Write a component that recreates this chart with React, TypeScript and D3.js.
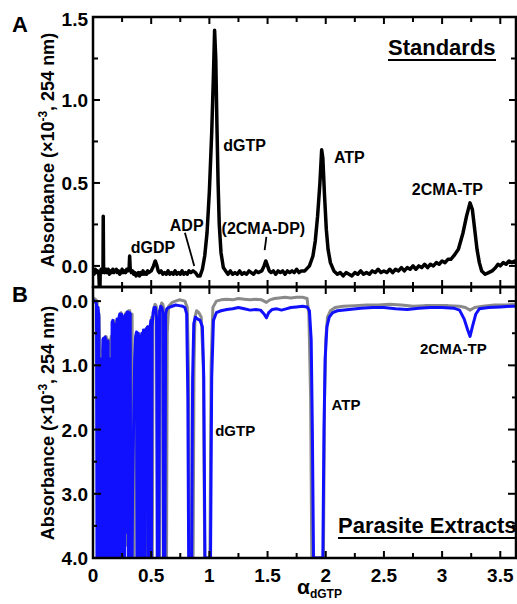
import React from "react";
import * as d3 from "d3";

// panel A: standards trace [alpha, absorbance]
const standardsTrace: [number, number][] = [
  [0.000,-0.03],[0.010,-0.05],[0.020,-0.02],[0.030,-0.04],[0.040,-0.03],[0.050,-0.05],[0.055,-0.13],[0.060,-0.13],
  [0.062,-0.04],[0.070,-0.02],[0.080,-0.04],[0.086,-0.03],[0.088,0.30],[0.091,-0.03],[0.100,-0.04],[0.110,-0.02],
  [0.120,-0.04],[0.130,-0.02],[0.140,-0.05],[0.150,-0.03],[0.160,-0.04],[0.170,-0.02],[0.180,-0.04],[0.190,-0.03],
  [0.200,-0.02],[0.210,-0.04],[0.220,-0.03],[0.230,-0.05],[0.240,-0.04],[0.250,-0.02],[0.260,-0.04],[0.270,-0.03],
  [0.280,-0.04],[0.290,-0.02],[0.300,-0.03],[0.310,-0.02],[0.315,0.06],[0.320,-0.02],[0.330,-0.04],[0.340,-0.03],
  [0.350,-0.05],[0.360,-0.04],[0.370,-0.06],[0.380,-0.05],[0.390,-0.04],[0.400,-0.06],[0.410,-0.04],[0.420,-0.05],
  [0.430,-0.03],[0.440,-0.05],[0.450,-0.04],[0.460,-0.05],[0.470,-0.03],[0.480,-0.04],[0.500,-0.03],[0.520,0.00],
  [0.535,0.03],[0.550,0.00],[0.560,-0.03],[0.570,-0.04],[0.585,-0.03],[0.600,-0.05],[0.615,-0.04],[0.630,-0.05],
  [0.645,-0.03],[0.660,-0.05],[0.675,-0.04],[0.690,-0.05],[0.705,-0.03],[0.720,-0.05],[0.735,-0.04],[0.750,-0.05],
  [0.765,-0.03],[0.780,-0.05],[0.795,-0.04],[0.810,-0.05],[0.825,-0.03],[0.840,-0.04],[0.860,-0.03],[0.880,-0.04],
  [0.900,-0.06],[0.920,-0.06],[0.940,-0.02],[0.960,0.06],[0.980,0.20],[1.000,0.45],[1.020,0.80],[1.035,1.15],
  [1.045,1.42],[1.055,1.25],[1.065,0.85],[1.075,0.50],[1.085,0.25],[1.100,0.08],[1.120,-0.01],[1.140,-0.03],
  [1.160,-0.05],[1.180,-0.03],[1.200,-0.05],[1.220,-0.04],[1.240,-0.05],[1.260,-0.03],[1.280,-0.05],[1.300,-0.04],
  [1.320,-0.05],[1.340,-0.03],[1.360,-0.04],[1.380,-0.05],[1.400,-0.03],[1.420,-0.04],[1.450,-0.03],[1.470,0.00],
  [1.485,0.03],[1.500,0.00],[1.515,-0.03],[1.530,-0.04],[1.550,-0.03],[1.570,-0.05],[1.590,-0.03],[1.610,-0.04],
  [1.630,-0.03],[1.650,-0.05],[1.670,-0.03],[1.690,-0.04],[1.710,-0.03],[1.730,-0.04],[1.750,-0.02],[1.770,-0.04],
  [1.790,-0.03],[1.820,-0.03],[1.860,0.00],[1.890,0.06],[1.910,0.15],[1.930,0.30],[1.950,0.50],[1.965,0.70],
  [1.975,0.65],[1.990,0.42],[2.005,0.22],[2.020,0.10],[2.040,0.02],[2.070,-0.03],[2.100,-0.05],[2.125,-0.04],
  [2.150,-0.06],[2.175,-0.04],[2.200,-0.05],[2.225,-0.06],[2.250,-0.04],[2.275,-0.05],[2.300,-0.03],[2.325,-0.05],
  [2.350,-0.04],[2.375,-0.05],[2.400,-0.03],[2.425,-0.04],[2.450,-0.02],[2.475,-0.04],[2.500,-0.03],[2.525,-0.04],
  [2.550,-0.02],[2.575,-0.04],[2.600,-0.02],[2.625,-0.03],[2.650,-0.01],[2.675,-0.03],[2.700,-0.01],[2.725,-0.02],
  [2.750,0.00],[2.775,-0.02],[2.800,0.00],[2.825,-0.01],[2.850,0.01],[2.875,-0.01],[2.900,0.01],[2.925,0.00],
  [2.950,0.02],[2.975,0.01],[3.000,0.03],[3.025,0.02],[3.050,0.04],[3.075,0.04],[3.100,0.06],[3.140,0.10],
  [3.180,0.20],[3.210,0.30],[3.240,0.38],[3.260,0.34],[3.280,0.22],[3.300,0.10],[3.320,0.02],[3.340,-0.03],
  [3.370,-0.05],[3.400,-0.04],[3.430,-0.03],[3.460,-0.01],[3.480,0.01],[3.500,0.00],[3.525,0.02],[3.550,0.01],
  [3.575,0.03],[3.600,0.02],[3.625,0.03],[3.650,0.01],
];

// panel B: parasite extract traces (blue = treated, grey = control)
const extractBlue: [number, number][] = [
  [0.000,-0.02],[0.015,0.00],[0.025,0.02],[0.030,0.05],[0.034,4.0],[0.040,4.0],[0.044,0.10],[0.050,0.25],
  [0.054,4.0],[0.060,4.0],[0.064,0.90],[0.070,1.00],[0.074,4.0],[0.080,4.0],[0.085,0.60],[0.090,0.58],
  [0.094,4.0],[0.100,1.60],[0.104,0.56],[0.110,0.60],[0.114,4.0],[0.120,4.0],[0.124,1.20],[0.130,0.62],
  [0.134,4.0],[0.142,4.0],[0.146,0.90],[0.152,4.0],[0.160,4.0],[0.164,0.33],[0.170,0.30],[0.174,3.60],
  [0.180,0.35],[0.186,4.0],[0.192,4.0],[0.196,0.40],[0.202,1.30],[0.206,0.28],[0.212,4.0],[0.220,3.50],
  [0.224,0.25],[0.230,0.20],[0.234,4.0],[0.240,4.0],[0.244,0.20],[0.252,0.25],[0.256,2.00],[0.262,0.30],
  [0.266,4.0],[0.272,4.0],[0.276,0.22],[0.282,3.45],[0.286,0.20],[0.290,3.60],[0.294,0.17],[0.300,0.17],
  [0.304,4.0],[0.310,4.0],[0.314,0.18],[0.320,0.20],[0.324,4.0],[0.336,4.0],[0.340,3.00],[0.350,1.80],
  [0.358,0.90],[0.366,0.55],[0.374,0.48],[0.378,4.0],[0.386,4.0],[0.390,0.50],[0.396,4.0],[0.402,4.0],
  [0.406,1.50],[0.414,0.55],[0.420,0.50],[0.424,4.0],[0.430,4.0],[0.434,0.45],[0.442,0.48],[0.446,4.0],
  [0.452,0.45],[0.462,0.42],[0.470,0.40],[0.474,4.0],[0.486,4.0],[0.490,0.40],[0.498,0.30],[0.502,4.0],
  [0.508,0.40],[0.516,0.18],[0.526,0.10],[0.536,0.10],[0.546,0.25],[0.552,4.0],[0.566,4.0],[0.572,0.15],
  [0.582,0.08],[0.592,0.10],[0.600,0.18],[0.606,4.0],[0.618,4.0],[0.624,0.20],[0.634,0.12],[0.650,0.10],
  [0.680,0.08],[0.710,0.06],[0.740,0.07],[0.770,0.08],[0.790,0.10],[0.805,0.20],[0.815,1.50],[0.822,4.0],
  [0.848,4.0],[0.856,1.20],[0.866,0.35],[0.880,0.25],[0.900,0.28],[0.920,0.30],[0.940,0.40],[0.952,1.20],
  [0.962,4.0],[1.010,4.0],[1.020,1.20],[1.035,0.30],[1.060,0.18],[1.100,0.15],[1.150,0.13],[1.200,0.12],
  [1.250,0.10],[1.300,0.12],[1.350,0.14],[1.400,0.13],[1.440,0.14],[1.470,0.20],[1.490,0.26],[1.510,0.18],
  [1.540,0.13],[1.580,0.12],[1.620,0.14],[1.660,0.12],[1.700,0.10],[1.750,0.09],[1.800,0.08],[1.840,0.09],
  [1.860,0.15],[1.875,0.60],[1.885,2.00],[1.895,4.0],[1.975,4.0],[1.985,2.00],[1.995,0.90],[2.010,0.40],
  [2.030,0.25],[2.060,0.18],[2.100,0.15],[2.200,0.13],[2.300,0.11],[2.400,0.10],[2.500,0.10],[2.600,0.12],
  [2.700,0.13],[2.800,0.11],[2.900,0.10],[3.000,0.10],[3.100,0.11],[3.150,0.14],[3.190,0.28],[3.220,0.45],
  [3.240,0.55],[3.260,0.40],[3.290,0.20],[3.320,0.12],[3.400,0.10],[3.500,0.09],[3.600,0.08],[3.650,0.08],
];

const extractGrey: [number, number][] = [
  [0.000,-0.05],[0.020,-0.03],[0.036,0.00],[0.040,4.0],[0.048,4.0],[0.052,0.20],[0.060,0.90],[0.068,4.0],
  [0.076,4.0],[0.082,0.80],[0.092,0.60],[0.098,4.0],[0.106,1.40],[0.112,0.55],[0.122,0.60],[0.128,4.0],
  [0.136,2.75],[0.142,0.60],[0.150,2.75],[0.156,0.55],[0.162,4.0],[0.170,4.0],[0.176,0.30],[0.188,0.32],
  [0.194,4.0],[0.200,4.0],[0.206,0.35],[0.216,0.30],[0.222,3.50],[0.230,0.22],[0.240,0.18],[0.246,4.0],
  [0.256,4.0],[0.262,0.25],[0.270,2.20],[0.276,0.20],[0.286,0.18],[0.292,3.80],[0.300,3.80],[0.306,0.15],
  [0.316,0.15],[0.322,4.0],[0.330,4.0],[0.336,0.20],[0.344,4.0],[0.352,4.0],[0.360,1.50],[0.370,0.70],
  [0.380,0.50],[0.386,4.0],[0.396,4.0],[0.402,0.55],[0.408,4.0],[0.430,4.0],[0.436,0.50],[0.446,0.45],
  [0.452,4.0],[0.460,0.45],[0.470,0.40],[0.478,4.0],[0.490,4.0],[0.496,0.35],[0.504,0.25],[0.510,4.0],
  [0.516,0.30],[0.524,0.10],[0.534,0.05],[0.544,0.08],[0.550,0.20],[0.556,4.0],[0.574,4.0],[0.580,0.10],
  [0.590,0.03],[0.600,0.05],[0.610,0.15],[0.616,4.0],[0.632,4.0],[0.638,0.50],[0.650,0.08],[0.680,0.02],
  [0.710,0.00],[0.740,-0.02],[0.770,-0.01],[0.790,0.00],[0.810,0.10],[0.822,1.20],[0.830,4.0],[0.860,4.0],
  [0.868,1.00],[0.876,0.25],[0.890,0.15],[0.910,0.18],[0.930,0.25],[0.948,1.00],[0.960,4.0],[1.005,4.0],
  [1.015,1.00],[1.030,0.10],[1.060,0.00],[1.100,-0.02],[1.150,-0.03],[1.200,-0.02],[1.250,-0.04],[1.300,-0.03],
  [1.350,-0.02],[1.400,-0.03],[1.450,-0.02],[1.490,0.02],[1.520,-0.02],[1.560,-0.04],[1.600,-0.05],[1.650,-0.06],
  [1.700,-0.05],[1.750,-0.06],[1.800,-0.06],[1.840,-0.04],[1.855,0.20],[1.870,1.50],[1.880,4.0],[1.980,4.0],
  [1.990,1.50],[2.000,0.60],[2.015,0.25],[2.040,0.15],[2.080,0.10],[2.150,0.08],[2.250,0.07],[2.350,0.06],
  [2.450,0.06],[2.550,0.05],[2.650,0.06],[2.750,0.08],[2.850,0.07],[2.950,0.07],[3.050,0.07],[3.150,0.08],
  [3.200,0.10],[3.240,0.14],[3.280,0.10],[3.350,0.08],[3.450,0.06],[3.550,0.06],[3.650,0.05],
];

const xMajorTicks = [0, 0.5, 1, 1.5, 2, 2.5, 3, 3.5];
const xTickLabels = ["0", "0.5", "1", "1.5", "2", "2.5", "3", "3.5"];
const xMinorTicks = [0.25, 0.75, 1.25, 1.75, 2.25, 2.75, 3.25];
const yATicks = [0, 0.5, 1, 1.5];
const yATickLabels = ["0.0", "0.5", "1.0", "1.5"];
const yAMinor = [0.25, 0.75, 1.25];
const yBTicks = [0, 1, 2, 3, 4];
const yBTickLabels = ["0.0", "1.0", "2.0", "3.0", "4.0"];
const yBMinor = [0.5, 1.5, 2.5, 3.5];

// peak annotations: [label, alpha, value]
const labelsA: [string, number, number][] = [
  ["dGDP", 0.325, 0.075],
  ["ADP", 0.66, 0.21],
  ["(2CMA-DP)", 1.105, 0.19],
  ["dGTP", 1.12, 0.69],
  ["ATP", 2.07, 0.62],
  ["2CMA-TP", 2.74, 0.43],
];
const labelsB: [string, number, number][] = [
  ["dGTP", 1.05, 2.1],
  ["ATP", 2.05, 1.7],
  ["2CMA-TP", 2.81, 0.83],
];

const W = 517;
const H = 604;
const left = 93;
const right = 516;
const FONT = "'Liberation Sans', Arial, Helvetica, sans-serif";

export default function App() {
  const x = d3.scaleLinear().domain([0, 3.635]).range([left, right]);
  const yA = d3.scaleLinear().domain([-0.127, 1.5]).range([287, 17]);
  const yB = d3.scaleLinear().domain([-0.22, 4.0]).range([287, 558]);

  const lineA = d3.line<[number, number]>().x((d) => x(d[0])).y((d) => yA(d[1]));
  const lineB = d3.line<[number, number]>().x((d) => x(d[0])).y((d) => yB(d[1]));

  const tick = { stroke: "#000", strokeWidth: 2 };

  return (
    <svg
      width={W}
      height={H}
      style={{ position: "absolute", left: 0, top: 0, background: "#fff" }}
      fontFamily={FONT}
      fontWeight="bold"
    >
      <defs>
        <clipPath id="clipA">
          <rect x={left} y={17} width={right - left} height={270} />
        </clipPath>
        <clipPath id="clipB">
          <rect x={left} y={287} width={right - left} height={271} />
        </clipPath>
      </defs>

      {/* traces */}
      <g clipPath="url(#clipA)">
        <path d={lineA(standardsTrace) || ""} fill="none" stroke="#000" strokeWidth={3.5} strokeLinejoin="round" />
      </g>
      <g clipPath="url(#clipB)">
        <path d={lineB(extractGrey) || ""} fill="none" stroke="#8a8a8a" strokeWidth={3} strokeLinejoin="round" />
        <path d={lineB(extractBlue) || ""} fill="none" stroke="#1010ff" strokeWidth={3} strokeLinejoin="round" />
      </g>

      {/* frames */}
      <rect x={left} y={17} width={right - left} height={270} fill="none" stroke="#000" strokeWidth={2.5} />
      <rect x={left} y={287} width={right - left} height={271} fill="none" stroke="#000" strokeWidth={2.5} />

      {/* x ticks */}
      {[...xMajorTicks, ...xMinorTicks].map((t, i) => {
        const major = i < xMajorTicks.length;
        const len = major ? 7 : 5;
        const px = x(t);
        return (
          <g key={"xt" + i}>
            <line x1={px} x2={px} y1={17} y2={17 + len} {...tick} />
            <line x1={px} x2={px} y1={287 - len} y2={287 + len} {...tick} />
            <line x1={px} x2={px} y1={558} y2={558 - len} {...tick} />
          </g>
        );
      })}
      {xMajorTicks.map((t, i) => (
        <text key={"xl" + i} x={x(t)} y={582} fontSize={19} textAnchor="middle">
          {xTickLabels[i]}
        </text>
      ))}

      {/* y ticks A */}
      {[...yATicks, ...yAMinor].map((t, i) => {
        const len = i < yATicks.length ? 7 : 5;
        return (
          <g key={"ya" + i}>
            <line x1={left} x2={left + len} y1={yA(t)} y2={yA(t)} {...tick} />
            <line x1={right} x2={right - len} y1={yA(t)} y2={yA(t)} {...tick} />
          </g>
        );
      })}
      {yATicks.map((t, i) => (
        <text key={"yal" + i} x={88} y={Math.max(yA(t), 19) + 7} fontSize={19} textAnchor="end">
          {yATickLabels[i]}
        </text>
      ))}

      {/* y ticks B */}
      {[...yBTicks, ...yBMinor].map((t, i) => {
        const len = i < yBTicks.length ? 8 : 4;
        return (
          <g key={"yb" + i}>
            <line x1={left} x2={left + len} y1={yB(t)} y2={yB(t)} {...tick} />
            <line x1={right} x2={right - len} y1={yB(t)} y2={yB(t)} {...tick} />
          </g>
        );
      })}
      {yBTicks.map((t, i) => (
        <text key={"ybl" + i} x={88} y={yB(t) + 7} fontSize={19} textAnchor="end">
          {yBTickLabels[i]}
        </text>
      ))}

      {/* axis titles */}
      <text transform="translate(54,150) rotate(-90)" fontSize={18} textAnchor="middle">
        Absorbance (×10<tspan dy={-7} fontSize={12}>-3</tspan>
        <tspan dy={7}>, 254 nm)</tspan>
      </text>
      <text transform="translate(54,423) rotate(-90)" fontSize={18} textAnchor="middle">
        Absorbance (×10<tspan dy={-7} fontSize={12}>-3</tspan>
        <tspan dy={7}>, 254 nm)</tspan>
      </text>
      <text x={297} y={594} fontSize={21}>
        α<tspan dy={4} fontSize={12}>dGTP</tspan>
      </text>

      {/* panel letters */}
      <text x={12} y={32} fontSize={22}>A</text>
      <text x={12} y={302} fontSize={22}>B</text>

      {/* panel titles */}
      <text x={388} y={55} fontSize={22}>Standards</text>
      <line x1={388} x2={496} y1={60} y2={60} stroke="#000" strokeWidth={2} />
      <text x={338} y={533} fontSize={22}>Parasite Extracts</text>
      <line x1={338} x2={517} y1={538} y2={538} stroke="#000" strokeWidth={2} />

      {/* peak labels */}
      {labelsA.map(([s, a, v], i) => (
        <text key={"la" + i} x={x(a)} y={yA(v)} fontSize={16}>{s}</text>
      ))}
      {labelsB.map(([s, a, v], i) => (
        <text key={"lb" + i} x={x(a)} y={yB(v)} fontSize={15}>{s}</text>
      ))}
      {/* pointer lines */}
      <line x1={x(0.79)} y1={yA(0.2)} x2={x(0.87)} y2={yA(0.0)} stroke="#000" strokeWidth={1.8} />
      <line x1={x(1.49)} y1={yA(0.175)} x2={x(1.475)} y2={yA(0.095)} stroke="#000" strokeWidth={1.8} />
    </svg>
  );
}
